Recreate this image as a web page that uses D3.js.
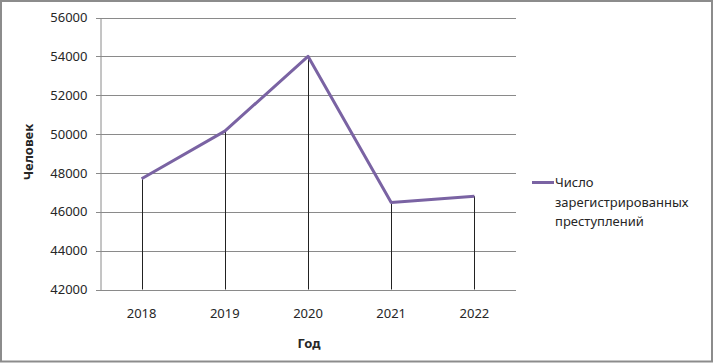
<!DOCTYPE html>
<html>
<head>
<meta charset="utf-8">
<script src="https://cdn.jsdelivr.net/npm/d3@7"></script>
<style>
  body { margin: 0; background: #fff; }
  text { font-family: "Noto Sans", sans-serif; fill: #262626; }
</style>
</head>
<body>
<div id="chart"></div>
<script>
const years = ["2018", "2019", "2020", "2021", "2022"];
const crimes = [47700, 50150, 54000, 46480, 46800];
const yTicks = [42000, 44000, 46000, 48000, 50000, 52000, 54000, 56000];
const seriesName = ["Число", "зарегистрированных", "преступлений"];

const width = 714, height = 363;

const svg = d3.select("#chart")
  .append("svg")
  .attr("width", width)
  .attr("height", height);

// outer frame
svg.append("rect")
  .attr("x", 1).attr("y", 1)
  .attr("width", 711).attr("height", 360.5)
  .attr("fill", "none")
  .attr("stroke", "#8c8c8c")
  .attr("stroke-width", 2);

const x = d3.scalePoint()
  .domain(years)
  .range([100, 516])
  .padding(0.5);

const y = d3.scaleLinear()
  .domain([42000, 56000])
  .range([289.5, 17.5]);

// gridlines
svg.append("g")
  .selectAll("line")
  .data(yTicks)
  .join("line")
  .attr("x1", 96).attr("x2", 516)
  .attr("y1", d => Math.round(y(d)) + 0.5)
  .attr("y2", d => Math.round(y(d)) + 0.5)
  .attr("stroke", "#8a8a8a")
  .attr("stroke-width", 1);

// y axis
const yAxis = svg.append("g")
  .attr("transform", "translate(100.5,0)")
  .call(d3.axisLeft(y).tickValues(yTicks).tickSize(0).tickPadding(13).tickFormat(d3.format("d")));
yAxis.select(".domain").attr("stroke", "#8a8a8a");
yAxis.selectAll("text")
  .style("font-size", "13px")
  .attr("fill", "#262626");

// x axis labels
svg.append("g")
  .selectAll("text")
  .data(years)
  .join("text")
  .attr("x", d => x(d))
  .attr("y", 318)
  .attr("text-anchor", "middle")
  .style("font-size", "13px")
  .text(d => d);

// drop lines
svg.append("g")
  .selectAll("line")
  .data(years)
  .join("line")
  .attr("x1", d => Math.round(x(d)) + 0.5)
  .attr("x2", d => Math.round(x(d)) + 0.5)
  .attr("y1", (d, i) => y(crimes[i]))
  .attr("y2", y(42000))
  .attr("stroke", "#222")
  .attr("stroke-width", 1);

// series line
const line = d3.line()
  .x((d, i) => x(years[i]))
  .y(d => y(d));

svg.append("path")
  .datum(crimes)
  .attr("d", line)
  .attr("fill", "none")
  .attr("stroke", "#7a63a3")
  .attr("stroke-width", 3)
  .attr("stroke-linejoin", "round");

// axis titles
svg.append("text")
  .attr("x", 309)
  .attr("y", 348)
  .attr("text-anchor", "middle")
  .style("font-size", "13px")
  .style("font-weight", "bold")
  .text("Год");

svg.append("text")
  .attr("transform", "translate(33,152) rotate(-90)")
  .attr("text-anchor", "middle")
  .style("font-size", "13px")
  .style("font-weight", "bold")
  .text("Человек");

// legend
const legend = svg.append("g");
legend.append("line")
  .attr("x1", 532).attr("x2", 554)
  .attr("y1", 182.5).attr("y2", 182.5)
  .attr("stroke", "#7a63a3")
  .attr("stroke-width", 3);
legend.selectAll("text")
  .data(seriesName)
  .join("text")
  .attr("x", 555)
  .attr("y", (d, i) => 187 + i * 19.5)
  .style("font-size", "13px")
  .text(d => d);
</script>
</body>
</html>
